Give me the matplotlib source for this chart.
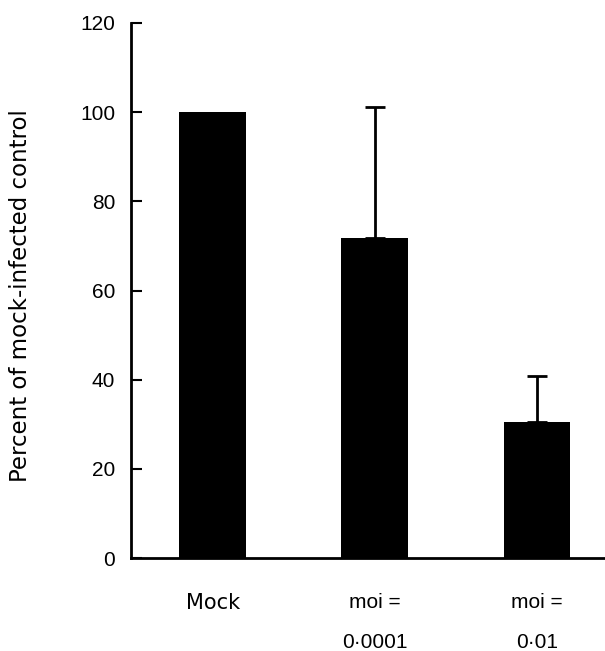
import matplotlib
matplotlib.use("Agg")
import matplotlib.pyplot as plt

categories = ["Mock", "moi =\n0\u00b70001", "moi =\n0\u00b701"]
values = [100, 71.7, 30.5]
err_upper = [0, 29.4, 10.3]
yticks = [0, 20, 40, 60, 80, 100, 120]

plt.rcParams['font.family'] = ['Liberation Sans', 'DejaVu Sans']

fig = plt.figure(figsize=(6.05, 6.51), dpi=100)
ax = fig.add_axes([131/605, (651-558)/651, 1 - 131/605, (558-23)/651])

x = list(range(len(categories)))
ax.bar(x, values, width=0.41, color='black', zorder=2)
for xi, v, e in zip(x, values, err_upper):
    if e > 0:
        ax.errorbar(xi, v, yerr=[[0], [e]], fmt='none', ecolor='black',
                    elinewidth=2, capsize=7, capthick=2, zorder=1)

ax.set_xlim(-0.503, 2.42)
ax.set_ylim(0, 120)
ax.set_yticks(yticks)
ax.set_yticklabels([str(t) for t in yticks], fontsize=15)
ax.set_xticks(x)
ax.set_xticklabels(categories, fontsize=15, linespacing=2.45, va='top')
ax.get_xticklabels()[0].set_fontfamily(['DejaVu Sans'])
ax.tick_params(axis='x', length=0, pad=25)
ax.tick_params(axis='y', direction='in', length=8, width=1.5, pad=11.5)

for s in ['top', 'right']:
    ax.spines[s].set_visible(False)
for s in ['left', 'bottom']:
    ax.spines[s].set_linewidth(2)

ax.set_ylabel("Percent of mock-infected control", fontsize=16.5,
              family=['DejaVu Sans'])
ax.yaxis.set_label_coords(-0.209, 0.49)

fig.savefig("out.png", dpi=100)
